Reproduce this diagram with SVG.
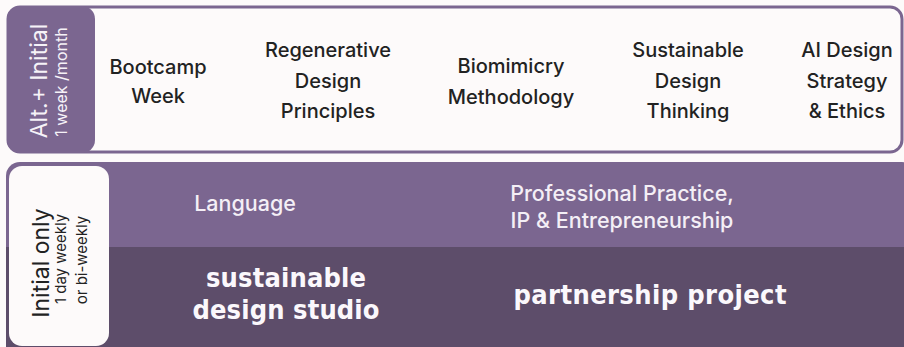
<svg xmlns="http://www.w3.org/2000/svg" width="904" height="347" viewBox="0 0 904 347">
<style>
.t{font-family:Inter,"Noto Sans","Liberation Sans",sans-serif;font-size:20px;font-weight:500;fill:#222;text-anchor:middle}
.w{font-family:Inter,"Noto Sans","Liberation Sans",sans-serif;font-size:21.5px;font-weight:500;fill:#f4eff6;text-anchor:middle}
.lbl{font-family:Inter,"Noto Sans","Liberation Sans",sans-serif;text-anchor:middle}
.big{font-family:"DejaVu Sans Condensed","DejaVu Sans",sans-serif;font-weight:bold;font-size:27px;fill:#fbf8fc;text-anchor:middle}
</style>
<rect width="904" height="347" fill="#fdfafa"/>
<g id="top-panel">
<rect x="8" y="7" width="894" height="145" rx="12" fill="#fdfafa" stroke="#7b6690" stroke-width="3"/>
<rect x="7" y="6" width="88" height="147" rx="13" fill="#7b6690"/>
<text class="lbl" transform="translate(47,81) rotate(-90)" font-size="23" fill="#f6f2f8">Alt.+ Initial</text>
<text class="lbl" transform="translate(67,82) rotate(-90)" font-size="16" fill="#f6f2f8">1 week /month</text>
</g>
<g id="bootcamp"><text class="t" x="158" y="74">Bootcamp</text><text class="t" x="158" y="103">Week</text></g>
<g id="regenerative"><text class="t" x="328" y="57">Regenerative</text><text class="t" x="328" y="88">Design</text><text class="t" x="328" y="118">Principles</text></g>
<g id="biomimicry"><text class="t" x="511" y="73">Biomimicry</text><text class="t" x="511" y="104">Methodology</text></g>
<g id="sustainable-thinking"><text class="t" x="688" y="57">Sustainable</text><text class="t" x="688" y="88">Design</text><text class="t" x="688" y="118">Thinking</text></g>
<g id="ai-design"><text class="t" x="847" y="57">AI Design</text><text class="t" x="847" y="88">Strategy</text><text class="t" x="847" y="118">&amp; Ethics</text></g>
<g id="bottom-panel">
<clipPath id="bp"><rect x="6" y="162" width="910" height="200" rx="14"/></clipPath>
<g clip-path="url(#bp)">
<rect x="6" y="162" width="910" height="86" fill="#7b6690"/>
<rect x="6" y="247" width="910" height="110" fill="#5d4d6a"/>
</g>
<rect x="9" y="166" width="100" height="180" rx="13" fill="#fdfafa"/>
<text class="lbl" transform="translate(49,263) rotate(-90)" font-size="23" fill="#222">Initial only</text>
<text class="lbl" transform="translate(66,259) rotate(-90)" font-size="15" fill="#222">1 day weekly</text>
<text class="lbl" transform="translate(87,260) rotate(-90)" font-size="15" fill="#222">or bi-weekly</text>
</g>
<g id="language"><text class="w" x="245" y="211">Language</text></g>
<g id="professional"><text class="w" x="622" y="201">Professional Practice,</text><text class="w" x="622" y="228">IP &amp; Entrepreneurship</text></g>
<g id="studio"><text class="big" x="286" y="287" textLength="160">sustainable</text><text class="big" x="286" y="319" textLength="187">design studio</text></g>
<g id="partnership"><text class="big" x="650" y="304" textLength="273">partnership project</text></g>
<g id="connectors"></g>
</svg>
